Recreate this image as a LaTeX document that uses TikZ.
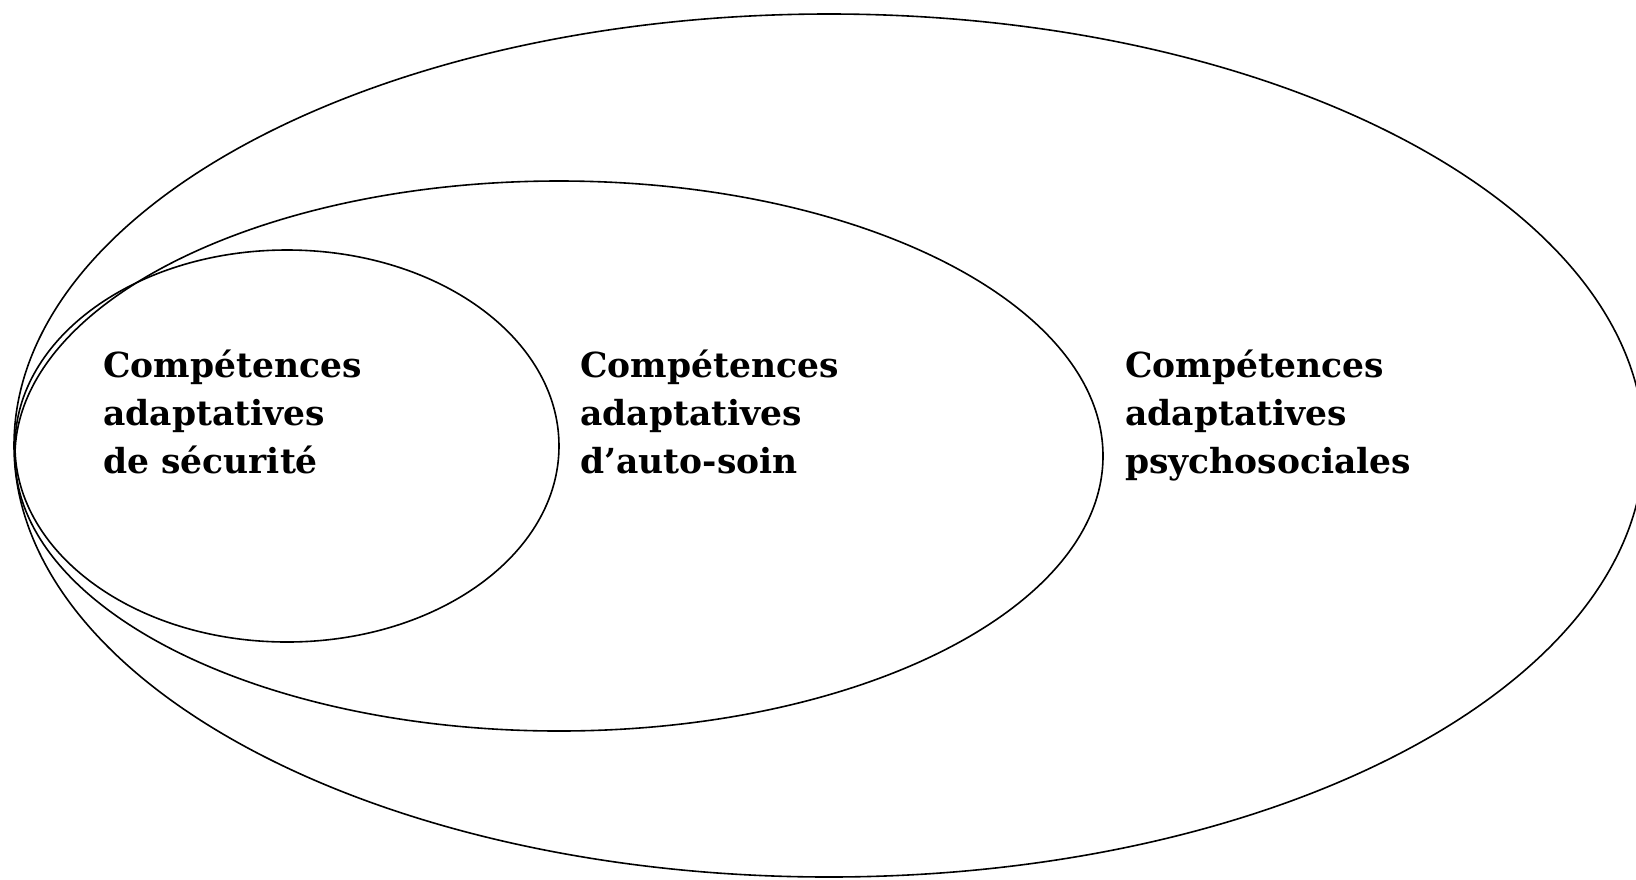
\documentclass[tikz,border=0pt]{standalone}
\usepackage{fontspec}
\setmainfont{DejaVu Serif}
\begin{document}
\begin{tikzpicture}[x=1pt,y=-1pt,
  ring/.style={draw=black,line width=1.6pt},
  label/.style={font=\bfseries\fontsize{34.5}{48}\selectfont,align=left,anchor=base west,inner sep=0pt}]
\useasboundingbox (0,0) rectangle (1636,879);
\clip (0,0) rectangle (1636,879);
% nested ellipses
\draw[ring] (829,445.5) ellipse [x radius=815, y radius=431.5];
\draw[ring] (559,456) ellipse [x radius=544, y radius=275];
\draw[ring] (287,446) ellipse [x radius=272, y radius=196];
% labels (anchored on the baseline of the last line)
\node[label] (secu) at (103,473) {Compétences\\adaptatives\\de sécurité};
\node[label] (auto) at (580,473) {Compétences\\adaptatives\\d’auto-soin};
\node[label] (psy) at (1125,473) {Compétences\\adaptatives\\psychosociales};
\end{tikzpicture}
\end{document}
